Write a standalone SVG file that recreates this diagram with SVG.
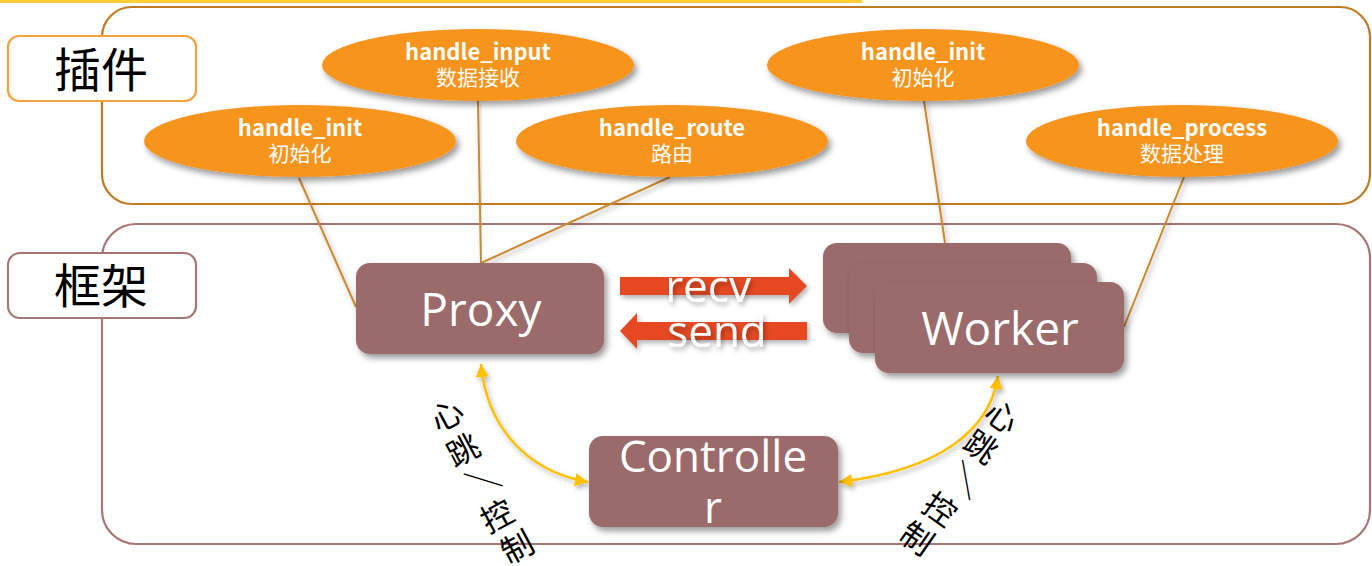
<svg xmlns="http://www.w3.org/2000/svg" width="1372" height="566" viewBox="0 0 1372 566">
  <defs>
    <style>
      .layer-plugin { fill: none; stroke: #C27A22; stroke-width: 2.2; }
      .layer-frame { fill: none; stroke: #A87474; stroke-width: 2.2; }
      .tag-plugin { fill: #fff; stroke: #F4A338; stroke-width: 2.2; }
      .tag-frame { fill: #fff; stroke: #A87474; stroke-width: 2.2; }
      .tag-text { font-family: "Noto Sans CJK SC", "Noto Sans", sans-serif; font-size: 47px; fill: #000; text-anchor: middle; }
      .hook { fill: #F7941F; filter: url(#shadow); }
      .hook-title { font-family: "Noto Sans CJK SC", "Noto Sans", sans-serif; font-weight: 700; font-size: 22px; fill: #fff; text-anchor: middle; }
      .hook-sub { font-family: "Noto Sans CJK SC", "Noto Sans", sans-serif; font-size: 21px; fill: #fff; text-anchor: middle; }
      .box { fill: #9B6A6A; filter: url(#shadow); }
      .box-text { font-family: "Open Sans", "Noto Sans", sans-serif; font-size: 46px; fill: #fff; text-anchor: middle; }
      .link { stroke: #CC8830; stroke-width: 2; fill: none; filter: url(#softshadow); }
      .flow { fill: #E64A24; filter: url(#softshadow); }
      .flow-text { font-family: "Open Sans", "Noto Sans", sans-serif; font-size: 44px; fill: #fff; text-anchor: middle; filter: url(#softshadow); }
      .beat { stroke: #FFC000; stroke-width: 2.6; fill: none; filter: url(#softshadow); marker-start: url(#tip); marker-end: url(#tip); }
      .beat-text { font-family: "Noto Sans CJK SC", "Noto Sans", sans-serif; font-size: 32px; fill: #000; }
    </style>
    <filter id="shadow" x="-20%" y="-20%" width="140%" height="150%">
      <feDropShadow dx="3" dy="4" stdDeviation="3" flood-color="#000" flood-opacity="0.4"/>
    </filter>
    <filter id="softshadow" x="-20%" y="-20%" width="140%" height="150%">
      <feDropShadow dx="2" dy="3" stdDeviation="2.5" flood-color="#000" flood-opacity="0.3"/>
    </filter>
    <marker id="tip" viewBox="0 0 10 10" refX="10" refY="5" markerWidth="14" markerHeight="13" markerUnits="userSpaceOnUse" orient="auto-start-reverse">
      <path d="M0,0 L10,5 L0,10 z" fill="#FFC000"/>
    </marker>
  </defs>

  <!-- top accent line -->
  <line x1="0" y1="1.5" x2="862" y2="1.5" stroke="#FFCC33" stroke-width="3"/>

  <!-- plugin layer -->
  <g id="layer-plugin">
    <rect class="layer-plugin" x="102" y="7" width="1268" height="197" rx="30"/>
    <rect class="tag-plugin" x="8" y="36" width="188" height="65" rx="11"/>
    <text class="tag-text" x="101" y="87">插件</text>
  </g>

  <!-- framework layer -->
  <g id="layer-framework">
    <rect class="layer-frame" x="102" y="224" width="1268" height="320" rx="34"/>
    <rect class="tag-frame" x="8" y="253" width="188" height="65" rx="12"/>
    <text class="tag-text" x="101" y="303">框架</text>
  </g>

  <!-- connectors -->
  <g id="connectors">
    <line class="link" x1="299" y1="178" x2="356" y2="307"/>
    <line class="link" x1="478" y1="101" x2="481" y2="263"/>
    <line class="link" x1="670" y1="177" x2="481" y2="263"/>
    <line class="link" x1="924" y1="101" x2="945" y2="243"/>
    <line class="link" x1="1184" y1="177" x2="1124" y2="327"/>

    <polygon class="flow" points="620,277 789,277 789,268 807,286 789,304 789,295 620,295"/>
    <polygon class="flow" points="807,322 637,322 637,313 620,331 637,349 637,340 807,340"/>
    <text class="flow-text" x="708" y="302">recv</text>
    <text class="flow-text" x="717" y="347">send</text>

    <path class="beat" d="M481,364 C486,420 520,470 588,482"/>
    <path class="beat" d="M998,376 C990,430 940,470 839,482"/>
    <!-- tilted vertical columns: ideographs upright in the column, the slash turned a quarter -->
    <text class="beat-text" x="438.2 454.5 464.9 488.5 508.5" y="433.1 468.1 471.5 534.1 565.1" rotate="-28 -28 62 -28 -28">心跳／控制</text>
    <text class="beat-text" x="982 961 965.3 920 897" y="417.3 447.3 460 509.7 538.7" rotate="35 35 125 35 35">心跳／控制</text>
  </g>

  <!-- plugin hooks -->
  <g id="node-handle-input">
    <ellipse class="hook" cx="478" cy="65" rx="156" ry="36"/>
    <text class="hook-title" x="478" y="60">handle_input</text>
    <text class="hook-sub" x="478" y="85">数据接收</text>
  </g>
  <g id="node-proxy-init">
    <ellipse class="hook" cx="300" cy="141" rx="156" ry="36"/>
    <text class="hook-title" x="300" y="136">handle_init</text>
    <text class="hook-sub" x="300" y="161">初始化</text>
  </g>
  <g id="node-handle-route">
    <ellipse class="hook" cx="672" cy="141" rx="156" ry="36"/>
    <text class="hook-title" x="672" y="136">handle_route</text>
    <text class="hook-sub" x="672" y="161">路由</text>
  </g>
  <g id="node-worker-init">
    <ellipse class="hook" cx="923" cy="65" rx="156" ry="36"/>
    <text class="hook-title" x="923" y="60">handle_init</text>
    <text class="hook-sub" x="923" y="85">初始化</text>
  </g>
  <g id="node-handle-process">
    <ellipse class="hook" cx="1182" cy="141" rx="156" ry="36"/>
    <text class="hook-title" x="1182" y="136">handle_process</text>
    <text class="hook-sub" x="1182" y="161">数据处理</text>
  </g>

  <!-- framework components -->
  <g id="node-proxy">
    <rect class="box" x="356" y="263" width="248" height="91" rx="14"/>
    <text class="box-text" x="481" y="326">Proxy</text>
  </g>
  <g id="node-worker">
    <rect class="box" x="823" y="243" width="248" height="90" rx="14"/>
    <rect class="box" x="849" y="263" width="248" height="90" rx="14"/>
    <rect class="box" x="875" y="282" width="249" height="91" rx="14"/>
    <text class="box-text" x="1000" y="345">Worker</text>
  </g>
  <g id="node-controller">
    <rect class="box" x="589" y="436" width="249" height="91" rx="14"/>
    <text class="box-text" x="713" y="472" style="font-size:44px">Controlle</text>
    <text class="box-text" x="713" y="523" style="font-size:44px">r</text>
  </g>
</svg>
